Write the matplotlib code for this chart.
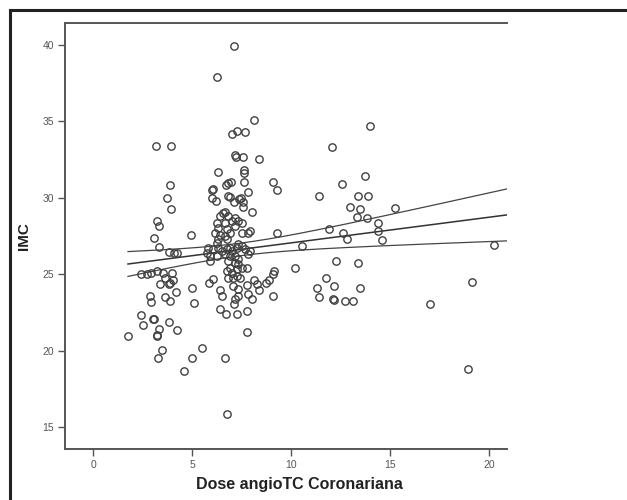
import numpy as np
import matplotlib
matplotlib.use("Agg")
import matplotlib.pyplot as plt
from matplotlib.lines import Line2D

plt.rcParams['font.family'] = ['Liberation Sans', 'DejaVu Sans']

# Dose angioTC Coronariana (x) e IMC (y)
dose = [
    # grupo esquerdo
    1.75, 2.41, 2.69, 2.9, 3.2, 3.52, 3.62, 3.99, 4.04,
    3.82, 4.1, 4.25, 3.33, 3.08, 3.23, 3.33, 3.74, 3.94, 3.88, 3.17, 3.92,
    3.38, 3.8, 3.88, 2.86, 2.93, 3.64, 3.88, 4.16,
    2.41, 2.53, 3.03, 3.06, 3.2, 3.24, 3.3, 3.83, 4.22, 3.49, 3.28, 4.56,
    4.98, 5.1, 4.98, 5.48, 4.93,
    # grupo central
    7.12, 6.25, 8.13, 6.99, 7.24, 7.66, 7.16, 7.2, 7.55, 8.37, 6.3, 7.6, 7.6,
    7.63, 6.79, 6.72, 6.94, 9.06, 9.29, 6.06, 6.0, 6.0, 6.22, 6.82, 6.9, 7.81,
    7.37, 7.46, 7.09, 7.54, 7.58, 8.0, 6.67,
    6.57, 6.4, 6.82, 7.16, 6.23, 6.65, 6.99, 7.32, 6.31, 6.74, 7.16, 7.49,
    6.15, 6.4, 6.65, 6.9, 6.31, 6.74, 6.23, 7.49, 7.83, 7.91, 9.26,
    5.8, 5.72, 5.89, 6.06, 6.31, 6.48, 6.74, 6.9, 6.99, 7.24, 7.32, 7.49, 7.66,
    7.91, 6.23, 6.65, 6.9, 5.89, 7.16, 7.32, 7.83,
    6.82, 7.16, 7.32, 6.9, 6.74, 6.99, 7.24, 7.49, 7.75, 6.82, 7.07, 7.24, 7.41,
    5.86, 6.03, 6.4, 7.07, 7.32,
    8.12, 8.28, 8.39, 8.7, 8.89, 9.06, 9.13, 9.06, 7.75, 7.83, 8.02,
    7.32, 6.48, 7.16, 7.12, 6.38, 6.69, 7.24, 7.75, 7.75, 6.64, 6.77,
    # grupo direito
    10.19, 10.52, 11.28, 11.4, 13.97, 12.07, 13.72, 12.58, 11.4, 13.39, 13.89,
    12.96, 13.47, 13.3, 13.84, 15.24, 14.39, 14.39, 14.6, 11.9, 12.63, 12.83,
    20.24, 12.24, 13.38, 11.74, 12.16, 12.12, 12.16, 12.71, 13.13, 13.47,
    19.11, 17.01, 18.94,
]
imc = [
    21.0, 25.0, 25.05, 25.1, 25.2, 25.1, 24.78, 25.08, 24.6,
    26.44, 26.37, 26.4, 26.8, 27.39, 28.48, 28.15, 29.96, 29.3, 30.86, 33.36, 33.36,
    24.34, 24.34, 24.44, 23.56, 23.19, 23.53, 23.25, 23.84,
    22.32, 21.67, 22.08, 22.05, 21.02, 21.0, 21.41, 21.89, 21.35, 20.02, 19.52, 18.65,
    24.13, 23.15, 19.52, 20.16, 27.59,
    39.9, 37.9, 35.1, 34.2, 34.4, 34.3, 32.8, 32.7, 32.7, 32.55, 31.67, 31.8, 31.6,
    31.05, 30.95, 30.85, 31.05, 31.05, 30.5, 30.6, 30.5, 30.0, 29.8, 30.12, 30.08, 30.35,
    29.9, 30.0, 29.74, 29.74, 29.4, 29.1, 29.1,
    29.02, 28.8, 28.8, 28.7, 28.37, 28.37, 28.48, 28.48, 28.04, 27.93, 28.15, 28.37,
    27.72, 27.6, 27.5, 27.72, 27.28, 27.28, 27.07, 27.72, 27.72, 27.83, 27.72,
    26.74, 26.41, 26.2, 26.63, 26.74, 26.52, 26.63, 26.74, 26.52, 26.74, 26.95, 26.84, 26.63,
    26.52, 26.2, 26.3, 26.2, 25.87, 26.2, 25.98, 26.3,
    25.87, 25.76, 25.65, 25.43, 25.21, 25.11, 25.32, 25.43, 25.43, 24.78, 24.78, 24.89, 24.78,
    24.46, 24.72, 24.0, 24.24, 24.02,
    24.62, 24.34, 23.97, 24.45, 24.62, 25.0, 25.2, 23.56, 24.28, 23.69, 23.41,
    23.58, 23.58, 23.37, 23.04, 22.72, 22.39, 22.39, 22.6, 21.23, 19.52, 15.88,
    25.43, 26.84, 24.13, 23.5, 34.72, 33.35, 31.41, 30.91, 30.14, 30.1, 30.15,
    29.37, 29.24, 28.76, 28.67, 29.35, 28.37, 27.82, 27.22, 27.93, 27.67, 27.32,
    26.91, 25.87, 25.74, 24.78, 24.24, 23.37, 23.3, 23.28, 23.28, 24.13,
    24.48, 23.09, 18.8,
]

x_ticks = [0, 5, 10, 15, 20]
y_ticks = [15, 20, 25, 30, 35, 40]

x = np.array(dose)
y = np.array(imc)

# regressao linear + faixa de confianca da media
n = len(x)
b, a = np.polyfit(x, y, 1)
res = y - (a + b * x)
s = np.sqrt(np.sum(res ** 2) / (n - 2))
sxx = np.sum((x - x.mean()) ** 2)
t = 1.6
xl = np.linspace(x.min(), 20.9, 200)
yl = a + b * xl
se = s * np.sqrt(1.0 / n + (xl - x.mean()) ** 2 / sxx)

fig = plt.figure(figsize=(6.27, 5.0), dpi=100)
ax = fig.add_axes([0.1037, 0.102, 0.7049, 0.852])

ax.plot(x, y, 'o', ms=5.3, mfc='none', mec='#404040', mew=1.0, zorder=3)
ax.plot(xl, yl, color='#333333', lw=1.1, zorder=2)
ax.plot(xl, yl + t * se, color='#444444', lw=0.9, zorder=2)
ax.plot(xl, yl - t * se, color='#444444', lw=0.9, zorder=2)

ax.set_xlim(-1.43, 20.9)
ax.set_ylim(13.58, 41.43)
ax.set_xticks(x_ticks)
ax.set_yticks(y_ticks)

for sp in ['left', 'bottom', 'top']:
    ax.spines[sp].set_color('#555555')
    ax.spines[sp].set_linewidth(1.4)
ax.spines['right'].set_visible(False)
ax.tick_params(direction='out', length=5, width=1, color='#555555',
               labelcolor='#555555', labelsize=7.5, pad=3)

ax.set_xlabel('Dose angioTC Coronariana', fontsize=11.5, fontweight='bold',
              color='#222222', labelpad=7)
ax.xaxis.set_label_coords(0.53, -0.065)
ax.set_ylabel('IMC', fontsize=11, fontweight='bold', color='#222222')
ax.yaxis.set_label_coords(-0.077, 0.5)

# moldura externa
fig.add_artist(Line2D([10 / 627, 10 / 627], [0, 490 / 500], color='#222222', lw=2.2))
fig.add_artist(Line2D([10 / 627, 1], [490 / 500, 490 / 500], color='#222222', lw=2.2))

plt.savefig('out.png', dpi=100)
